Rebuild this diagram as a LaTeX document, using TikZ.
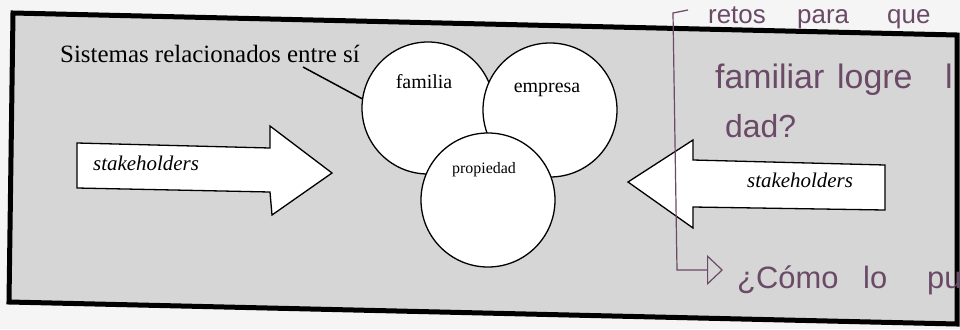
\documentclass[tikz,border=0pt]{standalone}
\usepackage{fontspec}
\setmainfont{Liberation Serif}
\newfontfamily\handfont{Liberation Sans}
\usetikzlibrary{arrows.meta}
\definecolor{paper}{HTML}{F5F5F5}
\definecolor{scan}{HTML}{D6D6D6}
\definecolor{ink}{HTML}{6A4A66}
\tikzset{
  circ/.style={circle, draw=black, line width=1.3bp, fill=white, inner sep=0pt, minimum size=#1},
  arrowshape/.style={draw=black, line width=1.3bp, fill=white, line join=miter},
  lbl/.style={font=\fontsize{21}{24}\selectfont\itshape, anchor=base west, inner sep=0pt},
  circlbl/.style={font=\fontsize{20}{22}\selectfont, anchor=base, inner sep=0pt},
  hand/.style={text=ink, anchor=base west, inner sep=0pt, font=\handfont\fontsize{#1}{#1}\selectfont},
  handline/.style={draw=ink, line width=1.2bp},
}
\begin{document}
\begin{tikzpicture}[x=1bp,y=-1bp]
\useasboundingbox (0,0) rectangle (960,329);
\fill[paper] (0,0) rectangle (960,329);
% scanned panel
\fill[scan] (13,13) -- (957,35) -- (957,324) -- (9,302) -- cycle;
\draw[line width=5bp, line join=miter] (13,13) -- (957,35) -- (957,324) -- (9,302) -- cycle;

% title
\node[font=\fontsize{25}{28}\selectfont, anchor=base west, inner sep=0pt] (title) at (60,62) {Sistemas relacionados entre sí};
\coordinate (titlefoot) at (303,67);

% circles
\node[circ=132bp] (fam) at (428,108) {};
\node[circ=134bp] (emp) at (550,110) {};
\node[circ=134bp] (prop) at (488,200) {};
\node[circlbl] (famtxt) at (424,88) {familia};
\node[circlbl] (emptxt) at (547,92) {empresa};
\node[circlbl, font=\fontsize{16}{18}\selectfont] (proptxt) at (484,173) {propiedad};

\draw[line width=1.5bp] (titlefoot) -- (fam.172);

% left arrow
\path[arrowshape] (77,143) -- (270,148) -- (270,126) -- (332,173) -- (272,215) -- (270,192) -- (77,188) -- cycle;
\node[lbl] (stakeL) at (93,170) {stakeholders};

% right arrow
\path[arrowshape] (885,165) -- (693,160) -- (693,140) -- (628,182) -- (693,228) -- (693,207) -- (885,210) -- cycle;
\node[lbl] (stakeR) at (747,187) {stakeholders};

% handwritten notes
\node[hand=26] (h1) at (708,23) {retos};
\node[hand=26] (h2) at (797,23) {para};
\node[hand=26] (h3) at (887,23) {que};
\node[hand=34] (h4) at (715,88) {familiar};
\node[hand=34] (h5) at (837,88) {logre};
\node[hand=34] (h6) at (945,88) {l};
\node[hand=32] (h7) at (725,137) {dad?};
\node[hand=31] (h8) at (737,288) {¿Cómo};
\node[hand=31] (h9) at (863,288) {lo};
\node[hand=31] (h10) at (927,288) {pu};

\coordinate (brA) at (688,10);
\coordinate (brB) at (673,13);
\coordinate (brC) at (677,270);
\coordinate (brD) at (723,270);
\draw[handline, -{Triangle[open,length=16bp,width=30bp]}] (brA) -- (brB) -- (brC) -- (brD);
\end{tikzpicture}
\end{document}
